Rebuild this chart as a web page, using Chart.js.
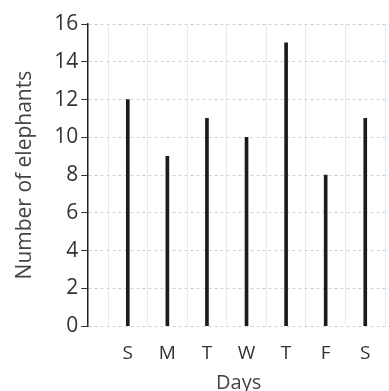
<!DOCTYPE html>
<html>
<head>
<meta charset="utf-8">
<script src="https://cdn.jsdelivr.net/npm/chart.js@4"></script>
<style>
  html, body { margin: 0; padding: 0; background: #fff; }
  #chartDiv { width: 389px; height: 391px; }
</style>
</head>
<body>
<div id="chartDiv"><canvas id="elephantChart" width="389" height="391"></canvas></div>
<script>
const days = ['S', 'M', 'T', 'W', 'T', 'F', 'S'];
const elephants = [12, 9, 11, 10, 15, 8, 11];
const yTicks = [0, 2, 4, 6, 8, 10, 12, 14, 16];

window.onload = function(){
    const ctx = document.getElementById('elephantChart');
    const points = [];
    for (let i = 0; i < days.length; i++) {
      points.push({x: i + 1, y: elephants[i]});
    }

    new Chart(ctx, {
        type: 'bar',
        data: {
          datasets: [{
            label: 'Number of elephants',
            data: points,
            backgroundColor: '#1b1b1b',
            barThickness: 3
          }]
        },
        options: {
          responsive: false,
          animation: false,
          layout: { padding: { top: 24, right: 0, left: 12, bottom: -4 } },
          plugins: { legend: { display: false }, tooltip: { enabled: false } },
          scales: {
            x: {
              type: 'linear',
              offset: false,
              min: 0,
              max: 7.6,
              afterBuildTicks: function(axis){ axis.ticks = days.map((d, i) => ({value: i + 1})); },
              ticks: {
                color: '#333',
                font: { family: 'Open Sans', size: 19 },
                padding: 16,
                callback: function(v){ return days[v - 1] || ''; }
              },
              grid: { color: '#e6eaf0', drawTicks: false },
              border: { display: false },
              title: {
                display: true,
                text: 'Days',
                color: '#444',
                font: { family: 'Open Sans', size: 20 },
                padding: { top: -10, bottom: 0 }
              }
            },
            y: {
              min: 0,
              max: 16,
              afterBuildTicks: function(axis){ axis.ticks = yTicks.map(v => ({value: v})); },
              ticks: {
                color: '#333',
                font: { family: 'Open Sans', size: 21 },
                padding: 3
              },
              grid: { color: '#c9d2dc', tickColor: '#333', tickLength: 7 },
              border: { color: '#222', width: 1.5, dash: [3, 3] },
              title: {
                display: true,
                text: 'Number of elephants',
                color: '#444',
                font: { family: 'Open Sans', size: 21 },
                padding: { top: 0, bottom: 14 }
              }
            }
          }
        }
    });
};
</script>
</body>
</html>
